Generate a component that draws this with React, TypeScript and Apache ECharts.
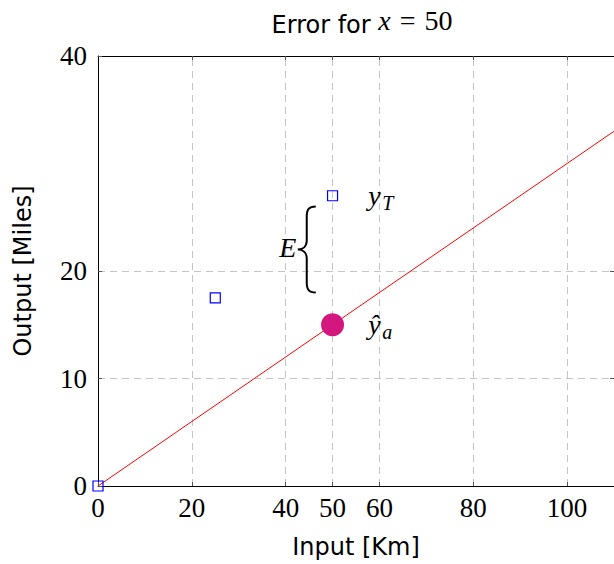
import React, { useEffect, useRef } from "react";
import * as echarts from "echarts";

// ---- data ----
const xTickValues = [0, 20, 40, 50, 60, 80, 100];
const yTickValues = [0, 10, 20, 40];
const xGridValues = [20, 40, 50, 60, 80, 100];
const yGridValues = [10, 20];
const samplePoints = [
  [0, 0],
  [25, 17.5],
  [50, 27],
];
const fitLine = [
  [0, 0],
  [110, 33],
];
const estimatePoint = [[50, 15]];
const braceSpan = [[44.5, 18, 26]]; // x, yLow, yHigh
const mathLabelPos = [
  [57.6, 27],
  [57.6, 15],
];
const mathLabelText = [
  { main: "y", sub: "T" },
  { main: "ŷ", sub: "a" },
];
const errorLabelPos = [[42.3, 22.2]];
const errorLabelText = ["E"];

const SERIF = '"Liberation Serif", "DejaVu Serif", serif';
const SANS = '"DejaVu Sans", "Noto Sans", sans-serif';

export default function App() {
  const ref = useRef<HTMLDivElement>(null);

  useEffect(() => {
    document.body.style.margin = "0";
    if (!ref.current) return;
    const chart = echarts.init(ref.current, null, { renderer: "svg" });

    const tickStyle = { color: "#555", width: 1 };
    const gridLineStyle = { color: "#c4c4c4", width: 1, type: [7, 5] as any };

    const option: any = {
      animation: false,
      backgroundColor: "#fff",
      title: {
        left: 357,
        top: -2,
        textAlign: "center",
        text: "{a|Error for }{b|x}{e|=}{c|50}",
        textStyle: {
          fontWeight: "normal",
          rich: {
            a: { fontFamily: SANS, fontSize: 24, fontWeight: "normal", color: "#000", padding: [10, 0, 0, 0] },
            b: { fontFamily: SERIF, fontStyle: "italic", fontWeight: "normal", fontSize: 28, color: "#000" },
            e: { fontFamily: SERIF, fontWeight: "normal", fontSize: 28, color: "#000", padding: [0, 9, 0, 9] },
            c: { fontFamily: SERIF, fontSize: 28, fontWeight: "normal", color: "#000" },
          },
        },
      },
      grid: { left: 98, top: 56, width: 519, height: 430, containLabel: false },
      xAxis: [
        {
          type: "value",
          position: "bottom",
          min: 0,
          max: 110,
          name: "Input [Km]",
          nameLocation: "middle",
          nameGap: 49,
          nameTextStyle: { fontFamily: SANS, fontSize: 24, color: "#000" },
          axisLine: { show: true, onZero: false, lineStyle: { color: "#000", width: 1 } },
          axisTick: { show: true, inside: true, length: 4, customValues: xTickValues, lineStyle: tickStyle },
          axisLabel: {
            show: true,
            customValues: xTickValues,
            margin: 8,
            fontFamily: SERIF,
            fontSize: 27,
            color: "#000",
          },
          splitLine: { show: false },
        },
        {
          type: "value",
          position: "top",
          min: 0,
          max: 110,
          axisLine: { show: true, onZero: false, lineStyle: { color: "#000", width: 1 } },
          axisTick: { show: true, inside: true, length: 4, customValues: xGridValues, lineStyle: tickStyle },
          axisLabel: { show: false },
          splitLine: { show: false },
        },
      ],
      yAxis: [
        {
          type: "value",
          position: "left",
          min: 0,
          max: 40,
          name: "Output [Miles]",
          nameLocation: "middle",
          nameGap: 63,
          nameTextStyle: { fontFamily: SANS, fontSize: 24, color: "#000" },
          axisLine: { show: true, onZero: false, lineStyle: { color: "#000", width: 1 } },
          axisTick: { show: true, inside: true, length: 4, customValues: yTickValues, lineStyle: tickStyle },
          axisLabel: {
            show: true,
            customValues: yTickValues,
            margin: 11,
            fontFamily: SERIF,
            fontSize: 27,
            color: "#000",
          },
          splitLine: { show: false },
        },
        {
          type: "value",
          position: "right",
          min: 0,
          max: 40,
          axisLine: { show: true, onZero: false, lineStyle: { color: "#000", width: 1 } },
          axisTick: { show: true, inside: true, length: 4, customValues: yGridValues, lineStyle: tickStyle },
          axisLabel: { show: false },
          splitLine: { show: false },
        },
      ],
      series: [
        {
          type: "line",
          xAxisIndex: 0,
          yAxisIndex: 0,
          data: [],
          z: 0,
          silent: true,
          markLine: {
            z: 0,
            silent: true,
            symbol: ["none", "none"],
            label: { show: false },
            lineStyle: gridLineStyle,
            emphasis: { disabled: true },
            data: [
              ...xGridValues.map((v) => ({ xAxis: v })),
              ...yGridValues.map((v) => ({ yAxis: v })),
            ],
          },
        },
        {
          type: "line",
          xAxisIndex: 0,
          yAxisIndex: 0,
          data: fitLine,
          showSymbol: false,
          symbol: "none",
          lineStyle: { color: "#ff0000", width: 1 },
          z: 2,
        },
        {
          type: "scatter",
          xAxisIndex: 0,
          yAxisIndex: 0,
          data: samplePoints,
          symbol: "rect",
          symbolSize: 10,
          itemStyle: { color: "rgba(255,255,255,0)", borderColor: "#0000ff", borderWidth: 1.2, opacity: 1 },
          z: 3,
        },
        {
          type: "scatter",
          xAxisIndex: 0,
          yAxisIndex: 0,
          data: estimatePoint,
          symbol: "circle",
          symbolSize: 23,
          itemStyle: { color: "#d4177e", opacity: 1 },
          z: 6,
        },
        {
          type: "custom",
          xAxisIndex: 0,
          yAxisIndex: 0,
          data: braceSpan,
          z: 7,
          renderItem: (_params: any, api: any) => {
            const top = api.coord([api.value(0), api.value(2)]);
            const bot = api.coord([api.value(0), api.value(1)]);
            const xc = top[0];
            const yt = top[1];
            const yb = bot[1];
            const ym = (yt + yb) / 2;
            const d =
              `M${xc + 9},${yt} C${xc + 2},${yt} ${xc},${yt + 3} ${xc},${yt + 10} ` +
              `L${xc},${ym - 9} C${xc},${ym - 3} ${xc - 4},${ym} ${xc - 9},${ym} ` +
              `C${xc - 4},${ym} ${xc},${ym + 3} ${xc},${ym + 9} ` +
              `L${xc},${yb - 10} C${xc},${yb - 3} ${xc + 2},${yb} ${xc + 9},${yb}`;
            return {
              type: "path",
              shape: { pathData: d },
              style: { stroke: "#000", fill: "none", lineWidth: 2 },
            };
          },
        },
        {
          type: "custom",
          xAxisIndex: 0,
          yAxisIndex: 0,
          data: mathLabelPos,
          z: 7,
          renderItem: (params: any, api: any) => {
            const p = api.coord([api.value(0), api.value(1)]);
            const t = mathLabelText[params.dataIndex];
            return {
              type: "group",
              children: [
                {
                  type: "text",
                  x: p[0],
                  y: p[1],
                  style: {
                    text: t.main,
                    fontFamily: SERIF,
                    fontStyle: "italic",
                    fontSize: 28,
                    fill: "#000",
                    align: "left",
                    verticalAlign: "middle",
                  },
                },
                {
                  type: "text",
                  x: p[0] + 14,
                  y: p[1] + 7,
                  style: {
                    text: t.sub,
                    fontFamily: SERIF,
                    fontStyle: "italic",
                    fontSize: 20,
                    fill: "#000",
                    align: "left",
                    verticalAlign: "middle",
                  },
                },
              ],
            };
          },
        },
        {
          type: "custom",
          xAxisIndex: 0,
          yAxisIndex: 0,
          data: errorLabelPos,
          z: 7,
          renderItem: (params: any, api: any) => {
            const p = api.coord([api.value(0), api.value(1)]);
            return {
              type: "text",
              x: p[0],
              y: p[1],
              style: {
                text: errorLabelText[params.dataIndex],
                fontFamily: SERIF,
                fontStyle: "italic",
                fontSize: 28,
                fill: "#000",
                align: "right",
                verticalAlign: "middle",
              },
            };
          },
        },
      ],
    };

    chart.setOption(option);
    return () => {
      chart.dispose();
    };
  }, []);

  return (
    <div
      ref={ref}
      style={{ position: "absolute", left: 0, top: 0, width: 614, height: 564, overflow: "hidden" }}
    />
  );
}
